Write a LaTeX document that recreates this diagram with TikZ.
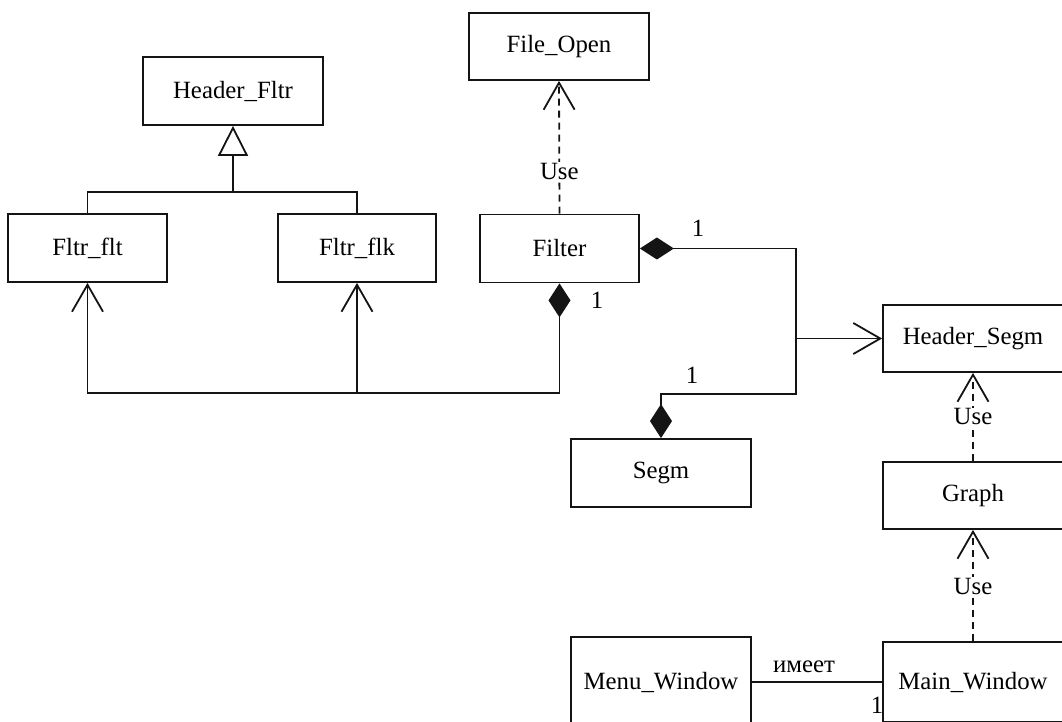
\documentclass[tikz,border=0pt]{standalone}
\usepackage{fontspec}
\setmainfont{Liberation Serif}
\usetikzlibrary{arrows.meta,positioning,calc}
\definecolor{umlLine}{RGB}{20,20,20}
\tikzset{
  classbox/.style={
    rectangle, draw=umlLine, line width=0.9pt, fill=white,
    align=center, minimum width=90pt, minimum height=34pt,
    inner sep=2pt, font=\fontsize{12.4}{14}\selectfont},
  link/.style={draw=umlLine, line width=0.9pt},
  usearrow/.style={link, -{Straight Barb[length=13.5pt,width=15.5pt,line width=0.9pt]}},
  usedep/.style={usearrow, dash pattern=on 3.5pt off 2.5pt},
  genarrow/.style={link, -{Triangle[open,length=15pt,width=15pt,line width=0.9pt]}},
  compo/.style={link, {Diamond[length=17pt,width=11pt]}-{Straight Barb[length=13.5pt,width=15.5pt,line width=0.9pt]}},
  compoboth/.style={link, {Diamond[length=17pt,width=11pt]}-{Diamond[length=17pt,width=11pt]}},
  mult/.style={font=\fontsize{12.4}{14}\selectfont, inner sep=1pt},
  uselabel/.style={mult, fill=white, inner sep=0.5pt}
}

\begin{document}
\begin{tikzpicture}[x=0.5pt, y=-0.5pt]
    \clip (0,0) rectangle (1062,722);

    \node[classbox, minimum height=34pt] (hfltr) at (233,91) {Header\_Fltr};
    \node[classbox, minimum width=79.5pt] (fltflt) at (87.5,248) {Fltr\_flt};
    \node[classbox, minimum width=79pt] (fltflk) at (357,248) {Fltr\_flk};
    \node[classbox, minimum height=33.5pt] (fopen) at (559,46.5) {File\_Open};
    \node[classbox, minimum width=79.5pt] (filter) at (559.5,248.5) {Filter};
    \node[classbox, minimum height=33.5pt] (hsegm) at (973,338.5) {Header\_Segm};
    \node[classbox] (segm) at (661,473) {Segm};
    \node[classbox, minimum height=33.5pt] (graph) at (973,495.5) {Graph};
    \node[classbox, minimum height=40pt] (mainwin) at (973,682) {Main\_Window};
    \node[classbox, minimum height=45pt] (menuwin) at (661,682) {Menu\_Window};

    \coordinate (genjoint) at (233,192);
    \coordinate (lowbus) at (0,393);
    \coordinate (bend) at (796,394);

    \draw[link] (fltflt.north) |- (genjoint) -| (fltflk.north);
    \draw[genarrow] (genjoint) -- (hfltr.south);

    \draw[compo] (filter.south) -- (filter.south |- lowbus) -| (fltflt.south);
    \draw[usearrow] (fltflk.south |- lowbus) -- (fltflk.south);

    \draw[compoboth] (filter.east) -| (bend) -| (segm.north);
    \draw[usearrow] (bend |- hsegm.west) -- (hsegm.west);

    \draw[usedep] (filter.north) -- node[uselabel, pos=0.32] {Use} (fopen.south);
    \draw[usedep] (graph.north) -- node[uselabel] {Use} (hsegm.south);
    \draw[usedep] (mainwin.north) -- node[uselabel, pos=0.49] {Use} (graph.south);

    \draw[link] (menuwin.east) -- node[mult, above=3pt, pos=0.4] {имеет} (mainwin.west);

    \node[mult] (m1) at (698,228) {1};
    \node[mult] (m2) at (597,300) {1};
    \node[mult] (m3) at (692,375) {1};
    \node[mult] (m4) at (877,705) {1};
  \end{tikzpicture}
\end{document}
